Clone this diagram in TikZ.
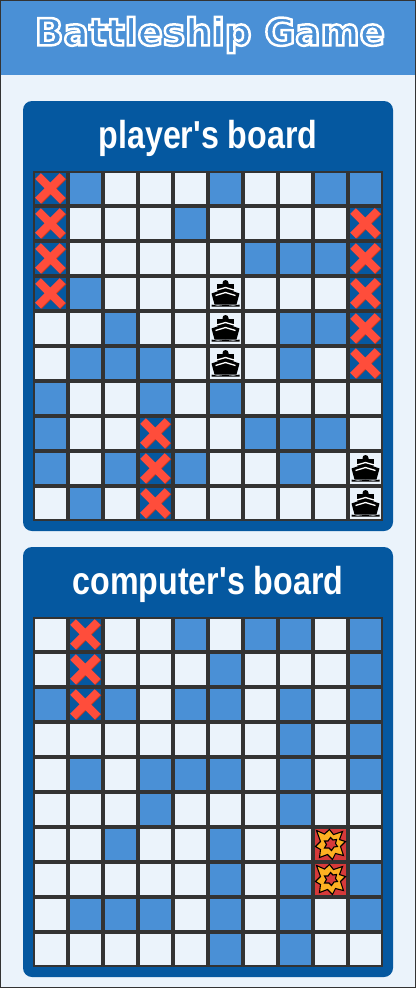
\documentclass[tikz,border=0pt]{standalone}
\usepackage{fontspec}
\setmainfont{Liberation Sans}
\newfontfamily\headfont{DejaVu Sans Bold}
\newfontfamily\boardfont[FakeStretch=0.826]{Liberation Sans Bold}
\definecolor{headblue}{HTML}{4A90D6}
\definecolor{pagebg}{HTML}{EBF3FB}
\definecolor{panelblue}{HTML}{0558A0}
\definecolor{gridgrey}{HTML}{333333}
\definecolor{hitred}{HTML}{FF4D3B}
\definecolor{hitshade}{HTML}{C8391F}
\definecolor{boomred}{HTML}{D63A3A}
\definecolor{boomorange}{HTML}{FDB022}
\tikzset{
  cell/.style={rectangle,minimum size=31pt,inner sep=0pt,outer sep=0pt},
  cellW/.style={fill=pagebg},
  cellB/.style={fill=headblue},
  cellX/.style={fill=panelblue},
  cellS/.style={fill=pagebg},
  cellE/.style={fill=boomred},
  panel/.style={fill=panelblue,rounded corners=9pt},
  boardtitle/.style={text=white,font=\boardfont\fontsize{39}{39}\selectfont,inner sep=0pt,anchor=base},
  iconW/.pic={},
  iconB/.pic={},
  iconX/.pic={
    \draw[hitshade,line width=8pt] (-11.5,-11.5) -- (12.7,12.7) (13,-12) -- (-11.5,12.5);
    \draw[hitred,line width=8pt] (-12.5,-12.5) -- (12,12) (12,-12.5) -- (-12.5,12);
  },
  iconS/.pic={
    \fill[black] (-3,-10.5) arc[start angle=180,end angle=360,radius=3] -- (3,-9) -- (-3,-9) -- cycle;
    \fill[black] (-8.5,-9.5) -- (8.5,-9.5) -- (8.5,-3) -- (-8.5,-3) -- cycle;
    \fill[black] (-14,0) -- (0,-5) -- (14,0) -- (11,11) -- (-11,11) -- cycle;
    \draw[white,line width=1.3pt] (-10.5,-3) -- (0,-6) -- (10.5,-3);
    \draw[white,line width=1.3pt] (-10,2) -- (0,-1) -- (10,2);
    \fill[black] (-14,11) -- (-8,12.2) -- (0,11.4) -- (8,12.2) -- (14,11) -- (14,13) -- (-14,13) -- cycle;
  },
  iconE/.pic={
    \draw[black,fill=boomorange,line width=1.1pt,line join=miter]
      (-14,-14) -- (-6,-10.5) -- (-1,-15) -- (3,-10) -- (12,-13) -- (9,-5) -- (15,-3) -- (10,2)
      -- (13,11) -- (5,9) -- (2,15) -- (-3,10) -- (-11,13) -- (-10,5) -- (-15,2) -- (-10,-3) -- cycle;
    \draw[black,fill=boomred,line width=1.1pt]
      (0,-7) -- (2.5,-4.5) -- (6,-5) -- (5,-1) -- (7,2) -- (3.5,2.5) -- (1,6) -- (-1.5,3.5) -- (-6,3.5) -- (-4,0) -- (-6,-3.5) -- (-2.5,-3.5) -- cycle;
  },
}
\newcommand{\drawboard}[3]{% prefix, grid top, list
  \node[fill=gridgrey,minimum width=350pt,minimum height=350pt,inner sep=0pt,outer sep=0pt] (#1grid) at (208,#2+175) {};
  \foreach \t [count=\i from 0] in {#3} {
    \pgfmathtruncatemacro{\cc}{mod(\i,10)}
    \pgfmathtruncatemacro{\rr}{int(\i/10)}
    \node[cell,cell\t] (#1\i) at (50.5+35*\cc,#2+17.5+35*\rr) {};
    \path (#1\i.center) pic {icon\t};
  }
}
\begin{document}
\begin{tikzpicture}[x=1pt,y=-1pt]
\useasboundingbox (0,0) rectangle (416,988);
\fill[pagebg] (0,0) rectangle (416,988);
\node[fill=headblue,minimum width=416pt,minimum height=75pt,inner sep=0pt,outer sep=0pt] (header) at (208,37.5) {};
\node[inner sep=0pt,text=headblue] (title) at (210,35) {\special{pdf:code q}\resizebox{350pt}{!}{\headfont\fontsize{36}{36}\selectfont\special{pdf:code 2 Tr 2.4 w 1 1 1 RG}Battleship Game\special{pdf:code 0 Tr}}\special{pdf:code Q}};
\draw[gridgrey,line width=1pt] (0.5,0.5) rectangle (415.5,987.5);

\path[panel] (23,101) rectangle (393,531);
\node[boardtitle] (ptitle) at (208,148) {player's board};
\drawboard{p}{171}{
X,B,W,W,W,B,W,W,B,B,
X,W,W,W,B,W,W,W,W,X,
X,W,W,W,W,W,B,B,B,X,
X,B,W,W,W,S,W,W,W,X,
W,W,B,W,W,S,W,B,B,X,
W,B,B,B,W,S,W,B,W,X,
B,W,W,B,W,B,W,W,W,W,
B,W,W,X,W,W,B,B,B,W,
B,W,B,X,B,W,W,B,W,S,
W,B,W,X,W,W,W,W,W,S}

\path[panel] (23,547) rectangle (393,977);
\node[boardtitle] (ctitle) at (208,594) {computer's board};
\drawboard{c}{617}{
W,X,W,W,B,W,B,B,W,B,
W,X,W,W,W,B,W,W,W,B,
B,X,B,W,B,B,W,B,W,B,
W,W,W,W,W,W,W,B,W,B,
W,B,W,B,B,B,W,B,W,B,
W,W,W,B,W,W,W,B,W,W,
W,W,B,W,W,B,W,W,E,W,
W,W,W,W,W,B,W,B,E,B,
W,B,B,B,W,B,W,B,W,B,
W,W,W,W,W,B,W,B,W,W}
\end{tikzpicture}
\end{document}
